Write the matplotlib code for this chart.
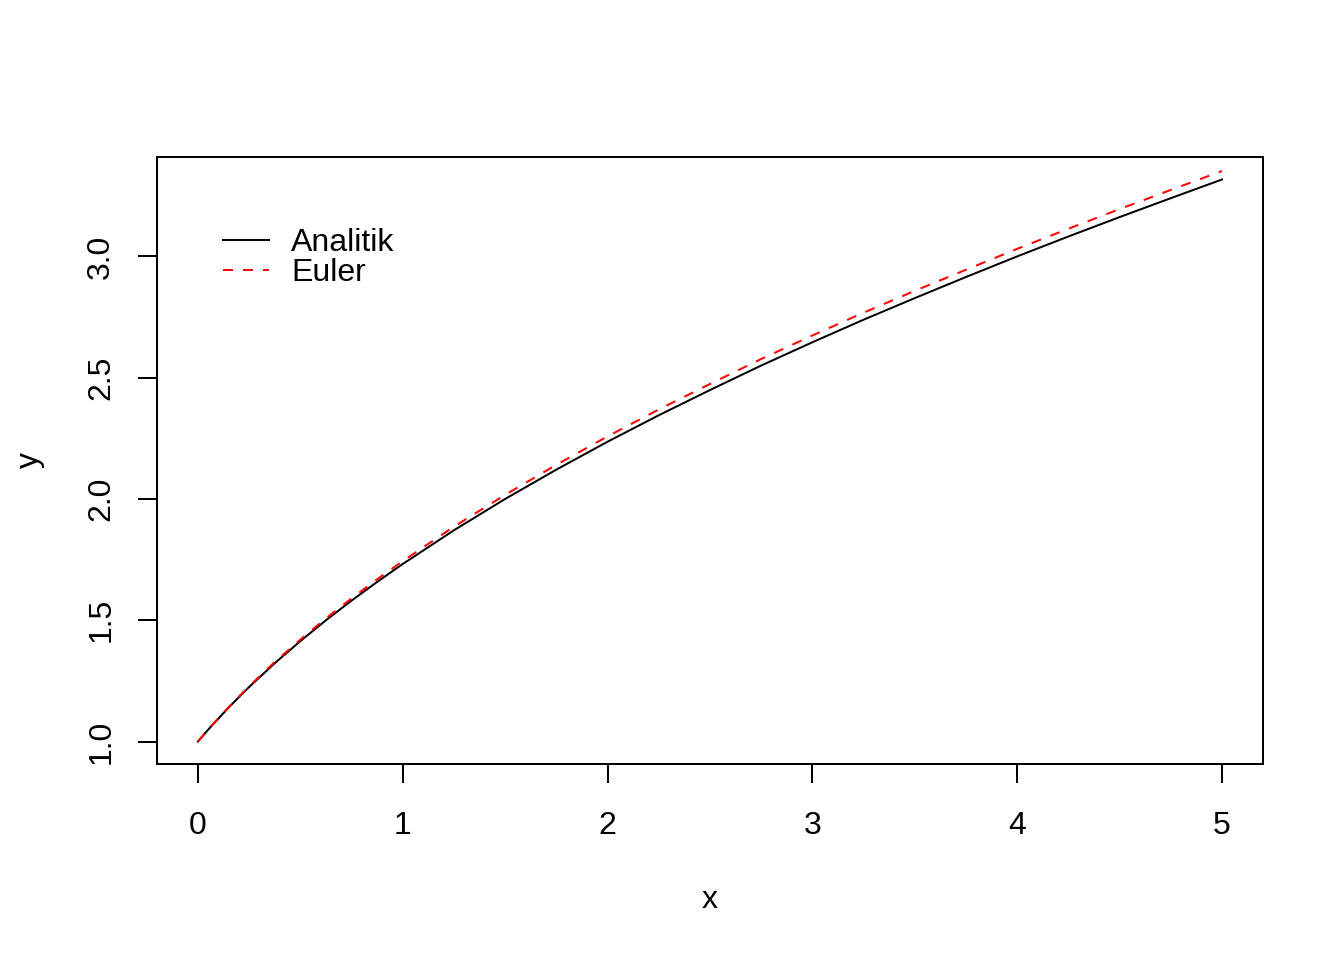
import matplotlib
matplotlib.use("Agg")
import matplotlib.pyplot as plt

plt.rcParams['font.family'] = ['Liberation Sans', 'DejaVu Sans']

x_vals = [0.00, 0.05, 0.10, 0.15, 0.20, 0.25, 0.375, 0.50, 0.625, 0.75, 0.875, 1.00,
          1.25, 1.50, 1.75, 2.00, 2.25, 2.50, 2.75, 3.00, 3.25, 3.50, 3.75, 4.00,
          4.25, 4.50, 4.75, 5.00]
y_analitik = [1.000, 1.049, 1.095, 1.140, 1.183, 1.225, 1.323, 1.414, 1.500, 1.581, 1.658, 1.732,
              1.871, 2.000, 2.121, 2.236, 2.345, 2.449, 2.550, 2.646, 2.739, 2.828, 2.915, 3.000,
              3.082, 3.162, 3.240, 3.317]
y_euler = [1.000, 1.050, 1.096, 1.142, 1.185, 1.228, 1.328, 1.420, 1.508, 1.590, 1.669, 1.744,
           1.886, 2.017, 2.141, 2.258, 2.369, 2.474, 2.577, 2.674, 2.768, 2.858, 2.945, 3.031,
           3.114, 3.195, 3.274, 3.352]
x_ticks = [0, 1, 2, 3, 4, 5]
y_ticks = [1.0, 1.5, 2.0, 2.5, 3.0]
series_names = ["Analitik", "Euler"]

W, H = 1344, 960
fig = plt.figure(figsize=(7, 5), dpi=192)
ax = fig.add_axes([157/W, 1-764/H, (1263-157)/W, (764-157)/H])

ax.plot(x_vals, y_analitik, color='black', lw=0.75, label=series_names[0])
ax.plot(x_vals, y_euler, color='red', lw=0.75, dashes=(5, 5), label=series_names[1])

xr = max(x_vals) - min(x_vals)
ax.set_xlim(min(x_vals) - 0.04*xr, max(x_vals) + 0.04*xr)
yr = max(y_analitik) - min(y_analitik)
ax.set_ylim(min(y_analitik) - 0.04*yr, max(y_analitik) + 0.04*yr)

ax.set_xticks(x_ticks)
ax.set_xticklabels([str(t) for t in x_ticks])
ax.set_yticks(y_ticks)
ax.set_yticklabels([f"{t:.1f}" for t in y_ticks], rotation=90, va='center')
ax.tick_params(direction='out', length=7, width=0.75, labelsize=12, colors='black')
ax.tick_params(axis='x', pad=10.6)
ax.tick_params(axis='y', pad=8.3)
for s in ax.spines.values():
    s.set_linewidth(0.75)

fig.text(710/W, 1-900/H, "x", fontsize=12, ha='center', va='center')
fig.text(30/W, 1-460/H, "y", fontsize=12, ha='center', va='center', rotation=90)

leg = ax.legend(loc='upper left', frameon=False, fontsize=12, handlelength=1.44,
                handletextpad=0.69, labelspacing=0.0, borderaxespad=0,
                bbox_to_anchor=((222-157-12)/1106, 1-(240-157-25)/607))

fig.savefig("out.png", dpi=192)
